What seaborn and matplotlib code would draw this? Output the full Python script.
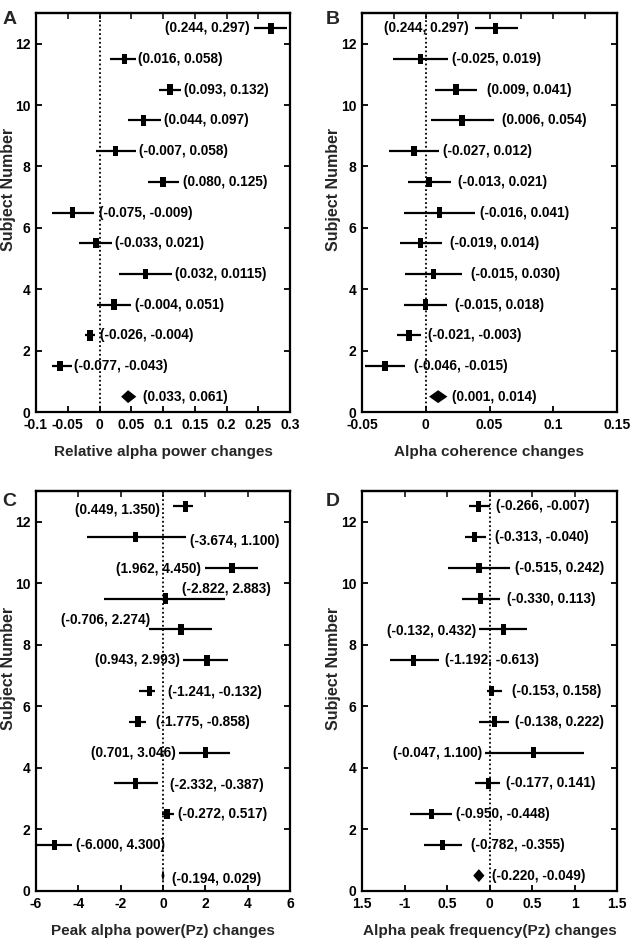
import numpy as np
import pandas as pd
import matplotlib
matplotlib.use("Agg")
import matplotlib.pyplot as plt
import seaborn as sns
from matplotlib.path import Path
from matplotlib.transforms import offset_copy

sns.set_theme(style="ticks")
plt.rcParams['font.family'] = ['Liberation Sans', 'DejaVu Sans']
plt.rcParams['font.weight'] = 'bold'
plt.rcParams['axes.labelweight'] = 'bold'

# ---------------- data ----------------
# Subjects 12 .. 1 (top to bottom), pooled estimate at the bottom
subject_rows = np.arange(12, 0, -1) + 0.5
pooled_row = 0.5

# Panel A: Relative alpha power changes
a_est = [0.270, 0.039, 0.111, 0.069, 0.025, 0.100, -0.042, -0.0055, 0.073, 0.023, -0.015, -0.062]
a_lo = [0.243, 0.0165, 0.093, 0.045, -0.006, 0.077, -0.075, -0.032, 0.030, -0.0045, -0.023, -0.075]
a_hi = [0.296, 0.0575, 0.129, 0.097, 0.057, 0.125, -0.008, 0.020, 0.114, 0.0496, -0.007, -0.044]
a_labels = ["(0.244, 0.297)", "(0.016, 0.058)", "(0.093, 0.132)", "(0.044, 0.097)",
            "(-0.007, 0.058)", "(0.080, 0.125)", "(-0.075, -0.009)", "(-0.033, 0.021)",
            "(0.032, 0.0115)", "(-0.004, 0.051)", "(-0.026, -0.004)", "(-0.077, -0.043)"]
a_pooled = (0.045, 0.034, 0.058)
a_pooled_label = "(0.033, 0.061)"

# Panel B: Alpha coherence changes
b_est = [0.0547, -0.0039, 0.0238, 0.0285, -0.0092, 0.0026, 0.011, -0.0039, 0.006, 0.0, -0.0131, -0.032]
b_lo = [0.0385, -0.0257, 0.0076, 0.0045, -0.0285, -0.0139, -0.017, -0.020, -0.0165, -0.017, -0.0222, -0.048]
b_hi = [0.072, 0.0175, 0.0403, 0.0534, 0.0105, 0.0196, 0.039, 0.013, 0.0288, 0.017, -0.0039, -0.0165]
b_labels = ["(0.244, 0.297)", "(-0.025, 0.019)", "(0.009, 0.041)", "(0.006, 0.054)",
            "(-0.027, 0.012)", "(-0.013, 0.021)", "(-0.016, 0.041)", "(-0.019, 0.014)",
            "(-0.015, 0.030)", "(-0.015, 0.018)", "(-0.021, -0.003)", "(-0.046, -0.015)"]
b_pooled = (0.0097, 0.0026, 0.017)
b_pooled_label = "(0.001, 0.014)"

# Panel C: Peak alpha power(Pz) changes
c_est = [1.06, -1.31, 3.26, 0.11, 0.85, 2.08, -0.65, -1.18, 2.0, -1.29, 0.19, -5.13]
c_lo = [0.47, -3.59, 2.0, -2.77, -0.68, 0.94, -1.15, -1.62, 0.77, -2.30, -0.05, -5.98]
c_hi = [1.42, 1.09, 4.49, 2.91, 2.31, 3.06, -0.36, -0.80, 3.18, -0.25, 0.54, -4.30]
c_labels = ["(0.449, 1.350)", "(-3.674, 1.100)", "(1.962, 4.450)", "(-2.822, 2.883)",
            "(-0.706, 2.274)", "(0.943, 2.993)", "(-1.241, -0.132)", "(-1.775, -0.858)",
            "(0.701, 3.046)", "(-2.332, -0.387)", "(-0.272, 0.517)", "(-6.000, 4.300)"]
c_pooled = (0.0, -0.07, 0.07)
c_pooled_label = "(-0.194, 0.029)"

# Panel D: Alpha peak frequency(Pz) changes
d_est = [-0.129, -0.173, -0.122, -0.11, 0.161, -0.89, 0.02, 0.059, 0.52, -0.008, -0.682, -0.557]
d_lo = [-0.243, -0.294, -0.49, -0.32, -0.118, -1.176, -0.035, -0.125, -0.055, -0.165, -0.937, -0.773]
d_hi = [0.0, -0.039, 0.247, 0.12, 0.443, -0.596, 0.149, 0.227, 1.11, 0.129, -0.439, -0.329]
d_labels = ["(-0.266, -0.007)", "(-0.313, -0.040)", "(-0.515, 0.242)", "(-0.330, 0.113)",
            "(-0.132, 0.432)", "(-1.192, -0.613)", "(-0.153, 0.158)", "(-0.138, 0.222)",
            "(-0.047, 1.100)", "(-0.177, 0.141)", "(-0.950, -0.448)", "(-0.782, -0.355)"]
d_pooled = (-0.125, -0.192, -0.059)
d_pooled_label = "(-0.220, -0.049)"

# axis ticks
a_xticks = [-0.1, -0.05, 0, 0.05, 0.1, 0.15, 0.2, 0.25, 0.3]
a_xticklabels = ["-0.1", "-0.05", "0", "0.05", "0.1", "0.15", "0.2", "0.25", "0.3"]
b_xticks = [-0.05, 0, 0.05, 0.1, 0.15]
b_xticklabels = ["-0.05", "0", "0.05", "0.1", "0.15"]
c_xticks = [-6, -4, -2, 0, 2, 4, 6]
c_xticklabels = ["-6", "-4", "-2", "0", "2", "4", "6"]
d_xticks = [-1.5, -1, -0.5, 0, 0.5, 1, 1.5]
d_xticklabels = ["1.5", "-1", "0.5", "0", "0.5", "1", "1.5"]
yticks = [0, 2, 4, 6, 8, 10, 12]

xlabels = ["Relative alpha power changes", "Alpha coherence changes",
           "Peak alpha power(Pz) changes", "Alpha peak frequency(Pz) changes"]
ylabel_text = "Subject Number"

# ---------------- layout (label placement: side, gap px, dy px) ----------------
a_lab_layout = [('L', 4.5, 0), ('R', 1.5, 0), ('R', 2.7, 0), ('R', 3, 0), ('R', 3.3, 0), ('R', 4.3, 0),
                ('R', 4.7, 0), ('R', 2.7, 0), ('R', 3.3, 0), ('R', 4, 0), ('R', 5, 0), ('R', 2.3, 0)]
b_lab_layout = [('L', 6, 0), ('R', 4.3, 0), ('R', 10.3, 0), ('R', 7.7, 0), ('R', 4, 0), ('R', 7.3, 0),
                ('R', 4.3, 0), ('R', 7.3, 0), ('R', 9, 0), ('R', 8, 0), ('R', 7.3, 0), ('R', 9, 0)]
c_lab_layout = [('L', 13, -4), ('R', 3.7, -3.5), ('L', 4, -1.5), ('C', 1.5, 9.5), ('LR', 1.5, 9),
                ('L', 2.7, 0), ('R', 13, -1), ('R', 10, 0), ('L', 4, 0), ('R', 12, -2),
                ('R', 3.7, 0), ('R', 4.3, 0)]
d_lab_layout = [('R', 6, 0), ('R', 9.3, 0), ('R', 4.3, 0), ('R', 7.3, 0), ('L', 3, -2), ('R', 6, 0),
                ('R', 10, 0), ('R', 6, 0), ('L', 2.7, 0), ('R', 6, 0), ('R', 4, 0), ('R', 9, 0)]
pooled_layout = [(7, 0), (5, 0), (7.7, -3), (7.7, 0)]

panels = [
    dict(est=a_est, lo=a_lo, hi=a_hi, labels=a_labels, pooled=a_pooled, plabel=a_pooled_label,
         xticks=a_xticks, xtl=a_xticklabels, xlim=(-0.1, 0.3), top=a_xticks, lay=a_lab_layout,
         rect=[36/630, 1-412/939, 254/630, 399/939], letter="A", lpos=(9.5, 20)),
    dict(est=b_est, lo=b_lo, hi=b_hi, labels=b_labels, pooled=b_pooled, plabel=b_pooled_label,
         xticks=b_xticks, xtl=b_xticklabels, xlim=(-0.05, 0.15),
         top=list(np.arange(-0.05, 0.1501, 0.025)), lay=b_lab_layout,
         rect=[362/630, 1-412/939, 255/630, 399/939], letter="B", lpos=(333, 20)),
    dict(est=c_est, lo=c_lo, hi=c_hi, labels=c_labels, pooled=c_pooled, plabel=c_pooled_label,
         xticks=c_xticks, xtl=c_xticklabels, xlim=(-6, 6), top=c_xticks, lay=c_lab_layout,
         rect=[36/630, 1-891/939, 254/630, 400/939], letter="C", lpos=(9.5, 501)),
    dict(est=d_est, lo=d_lo, hi=d_hi, labels=d_labels, pooled=d_pooled, plabel=d_pooled_label,
         xticks=d_xticks, xtl=d_xticklabels, xlim=(-1.5, 1.5), top=d_xticks, lay=d_lab_layout,
         rect=[362/630, 1-891/939, 255/630, 400/939], letter="D", lpos=(333, 501)),
]

fig = plt.figure(figsize=(6.3, 9.39), dpi=100)
fig.patch.set_facecolor('white')

rect_marker = Path([(-0.25, -0.5), (0.25, -0.5), (0.25, 0.5), (-0.25, 0.5), (-0.25, -0.5)],
                   [Path.MOVETO, Path.LINETO, Path.LINETO, Path.LINETO, Path.CLOSEPOLY])

LABEL_FS = 9.8

for i, p in enumerate(panels):
    ax = fig.add_axes(p['rect'])
    ax.set_facecolor('white')
    df = pd.DataFrame({'row': subject_rows, 'est': p['est'], 'lo': p['lo'], 'hi': p['hi'],
                       'label': p['labels']})
    ax.axvline(0, color='black', ls=(0, (1, 1.4)), lw=1.3, zorder=1)
    ax.hlines(df['row'], df['lo'], df['hi'], color='black', lw=1.6, zorder=2)
    sns.scatterplot(data=df, x='est', y='row', marker=rect_marker, s=58, color='black',
                    edgecolor='none', linewidth=0, ax=ax, zorder=3, legend=False)
    pe, plo, phi = p['pooled']
    ax.fill([plo, pe, phi, pe], [pooled_row, pooled_row + 0.21, pooled_row, pooled_row - 0.21],
            color='black', lw=0, zorder=3)

    for (row, lo, hi, lab), (side, gap, dy) in zip(df[['row', 'lo', 'hi', 'label']].itertuples(index=False), p['lay']):
        if side == 'R':
            x, ha, dx = hi, 'left', gap
        elif side == 'L':
            x, ha, dx = lo, 'right', -gap
        elif side == 'C':
            x, ha, dx = hi, 'center', gap
        else:  # 'LR' right edge aligned to lo
            x, ha, dx = lo, 'right', gap
        tr = offset_copy(ax.transData, fig=fig, x=dx, y=dy, units='dots')
        ax.text(x, row, lab, transform=tr, ha=ha, va='center', fontsize=LABEL_FS,
                fontweight='bold', color='black')
    pgap, pdy = pooled_layout[i]
    tr = offset_copy(ax.transData, fig=fig, x=pgap, y=pdy, units='dots')
    ax.text(phi, pooled_row, p['plabel'], transform=tr, ha='left', va='center',
            fontsize=LABEL_FS, fontweight='bold', color='black')

    ax.set_xlim(*p['xlim'])
    ax.set_ylim(0, 13)
    ax.set_xticks(p['xticks'])
    ax.set_xticklabels(p['xtl'])
    ax.set_yticks(yticks)
    ax.set_yticklabels([str(t) for t in yticks])
    ax.tick_params(axis='both', direction='in', length=4, width=1.3, labelsize=10,
                   pad=4, right=True, top=False, colors='black')
    for lbl in ax.get_xticklabels() + ax.get_yticklabels():
        lbl.set_fontweight('bold')
    sec = ax.secondary_xaxis('top')
    sec.set_xticks(p['top'])
    sec.tick_params(direction='in', length=4, width=1.3, labeltop=False)
    sec.spines['top'].set_linewidth(1.6)
    for s in ax.spines.values():
        s.set_linewidth(1.6)
        s.set_color('black')
    ax.set_xlabel(xlabels[i], fontsize=11, fontweight='bold', labelpad=10)
    ax.set_ylabel(ylabel_text, fontsize=11.5, fontweight='bold', va='center')
    ax.yaxis.set_label_coords(-0.11, 0.557)

    lx, ly = p['lpos']
    fig.text(lx / 630, 1 - ly / 939, p['letter'], fontsize=14, fontweight='bold',
             ha='center', va='center')

fig.savefig("out.png", dpi=100, facecolor='white')
